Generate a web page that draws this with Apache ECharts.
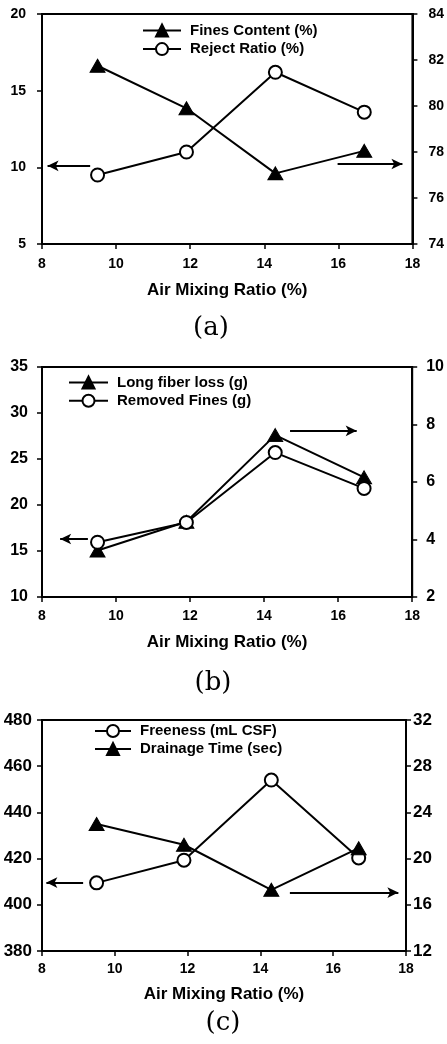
<!DOCTYPE html>
<html>
<head>
<meta charset="utf-8">
<script src="https://cdn.jsdelivr.net/npm/echarts@6/dist/echarts.min.js"></script>
<style>
html,body{margin:0;padding:0;background:#fff;}
#chart{width:447px;height:1044px;}
</style>
</head>
<body>
<div id="chart"></div>
<script>
// ---- data ----
var airMixingRatio = [9.5, 11.9, 14.3, 16.7];
// panel (a)
var finesContent = [81.75, 79.9, 77.07, 78.05];   // right axis
var rejectRatio  = [9.5, 11.0, 16.2, 13.6];       // left axis
// panel (b)
var longFiberLoss = [3.62, 4.62, 7.63, 6.16];     // right axis
var removedFines  = [15.95, 18.1, 25.7, 21.8];    // left axis
// panel (c)
var freeness     = [409.5, 419.3, 454, 420.3];    // left axis
var drainageTime = [23.0, 21.2, 17.3, 20.9];      // right axis
// axis ranges [min, max, interval]
var xRange = [8, 18, 2];
var yRangesA = [[5, 20, 5], [74, 84, 2]];
var yRangesB = [[10, 35, 5], [2, 10, 2]];
var yRangesC = [[380, 480, 20], [12, 32, 4]];
// pointer arrows (data coordinates: [from, to])
var arrowALeft  = [[9.3, 10.1], [8.15, 10.1]];
var arrowARight = [[15.98, 77.48], [17.73, 77.48]];
var arrowBLeft  = [[9.24, 16.3], [8.49, 16.3]];
var arrowBRight = [[14.7, 7.78], [16.5, 7.78]];
var arrowCLeft  = [[9.13, 409.6], [8.12, 409.6]];
var arrowCRight = [[14.81, 17.06], [17.79, 17.06]];
var panelLabels = ['(a)', '(b)', '(c)'];

function pairs(ys) { return airMixingRatio.map(function (x, i) { return [x, ys[i]]; }); }

var FONT = 'Liberation Sans, Arial, sans-serif';
function txt(size) { return { color: '#000', fontFamily: FONT, fontWeight: 'bold', fontSize: size }; }

function xAxisDef(gi, margin, nameGap) {
  return {
    type: 'value', gridIndex: gi, min: xRange[0], max: xRange[1], interval: xRange[2],
    name: 'Air Mixing Ratio (%)', nameLocation: 'middle', nameGap: nameGap,
    nameTextStyle: txt(17),
    axisLine: { show: true, onZero: false, lineStyle: { color: '#000', width: 2 } },
    axisTick: { show: true, inside: false, length: 5, lineStyle: { color: '#000', width: 1.5 } },
    axisLabel: Object.assign({ margin: margin }, txt(14)),
    splitLine: { show: false }
  };
}
function yAxisDef(gi, r, pos, margin, size) {
  return {
    type: 'value', gridIndex: gi, position: pos, min: r[0], max: r[1], interval: r[2],
    axisLine: { show: true, onZero: false, lineStyle: { color: '#000', width: 2 } },
    axisTick: { show: true, inside: false, length: 5, lineStyle: { color: '#000', width: 1.5 } },
    axisLabel: Object.assign({ margin: margin }, txt(size)),
    splitLine: { show: false }
  };
}
function arrowLine(a) {
  return {
    silent: true, symbol: ['none', 'arrow'], symbolSize: [8, 11],
    label: { show: false },
    lineStyle: { color: '#000', width: 2, type: 'solid' },
    emphasis: { disabled: true },
    data: [[{ coord: a[0] }, { coord: a[1] }]]
  };
}
function triSeries(name, xi, yi, ys, arrow) {
  var s = {
    name: name, type: 'line', xAxisIndex: xi, yAxisIndex: yi, data: pairs(ys),
    symbol: 'triangle', symbolSize: [15, 13], z: 3,
    itemStyle: { color: '#000', borderColor: '#000', borderWidth: 1 },
    lineStyle: { color: '#000', width: 2 }
  };
  if (arrow) s.markLine = arrowLine(arrow);
  return s;
}
function circSeries(name, xi, yi, ys, arrow) {
  var s = {
    name: name, type: 'line', xAxisIndex: xi, yAxisIndex: yi, data: pairs(ys),
    symbol: 'circle', symbolSize: 13, z: 3,
    itemStyle: { color: '#fff', borderColor: '#000', borderWidth: 2 },
    lineStyle: { color: '#000', width: 2 }
  };
  if (arrow) s.markLine = arrowLine(arrow);
  return s;
}
function legendDef(names, left, top, w, gap) {
  return {
    data: names, orient: 'vertical', left: left, top: top, padding: 0,
    itemWidth: w, itemHeight: 15, itemGap: gap, selectedMode: false,
    textStyle: Object.assign({ padding: [0, 0, 0, 4] }, txt(15))
  };
}

var option = {
  animation: false,
  backgroundColor: '#fff',
  grid: [
    { left: 42, top: 14, width: 371, height: 230, show: true, borderColor: '#000', borderWidth: 2, backgroundColor: 'transparent' },
    { left: 42, top: 367, width: 371, height: 230, show: true, borderColor: '#000', borderWidth: 2, backgroundColor: 'transparent' },
    { left: 42, top: 720, width: 364, height: 231, show: true, borderColor: '#000', borderWidth: 2, backgroundColor: 'transparent' }
  ],
  xAxis: [xAxisDef(0, 13, 38), xAxisDef(1, 12, 37), xAxisDef(2, 11, 35)],
  yAxis: [
    yAxisDef(0, yRangesA[0], 'left', 16, 14), yAxisDef(0, yRangesA[1], 'right', 16, 14),
    yAxisDef(1, yRangesB[0], 'left', 14, 16), yAxisDef(1, yRangesB[1], 'right', 14, 16),
    yAxisDef(2, yRangesC[0], 'left', 10, 17), yAxisDef(2, yRangesC[1], 'right', 7, 17)
  ],
  legend: [
    legendDef(['Fines Content (%)', 'Reject Ratio (%)'], 142, 23, 38, 3.6),
    legendDef(['Long fiber loss (g)', 'Removed Fines (g)'], 68, 375, 39, 3.3),
    legendDef(['Freeness (mL CSF)', 'Drainage Time (sec)'], 94, 723.5, 36, 3)
  ],
  series: [
    triSeries('Fines Content (%)', 0, 1, finesContent, arrowARight),
    circSeries('Reject Ratio (%)', 0, 0, rejectRatio, arrowALeft),
    triSeries('Long fiber loss (g)', 1, 3, longFiberLoss, arrowBRight),
    circSeries('Removed Fines (g)', 1, 2, removedFines, arrowBLeft),
    circSeries('Freeness (mL CSF)', 2, 4, freeness, arrowCLeft),
    triSeries('Drainage Time (sec)', 2, 5, drainageTime, arrowCRight)
  ],
  graphic: [
    { type: 'text', x: 211, y: 328, style: { text: panelLabels[0], fill: '#000', font: '26px "DejaVu Serif", serif', textAlign: 'center', textVerticalAlign: 'middle' } },
    { type: 'text', x: 213, y: 683, style: { text: panelLabels[1], fill: '#000', font: '26px "DejaVu Serif", serif', textAlign: 'center', textVerticalAlign: 'middle' } },
    { type: 'text', x: 223, y: 1023, style: { text: panelLabels[2], fill: '#000', font: '26px "DejaVu Serif", serif', textAlign: 'center', textVerticalAlign: 'middle' } }
  ]
};

var chart = echarts.init(document.getElementById('chart'), null, { renderer: 'canvas' });
chart.setOption(option);
</script>
</body>
</html>
